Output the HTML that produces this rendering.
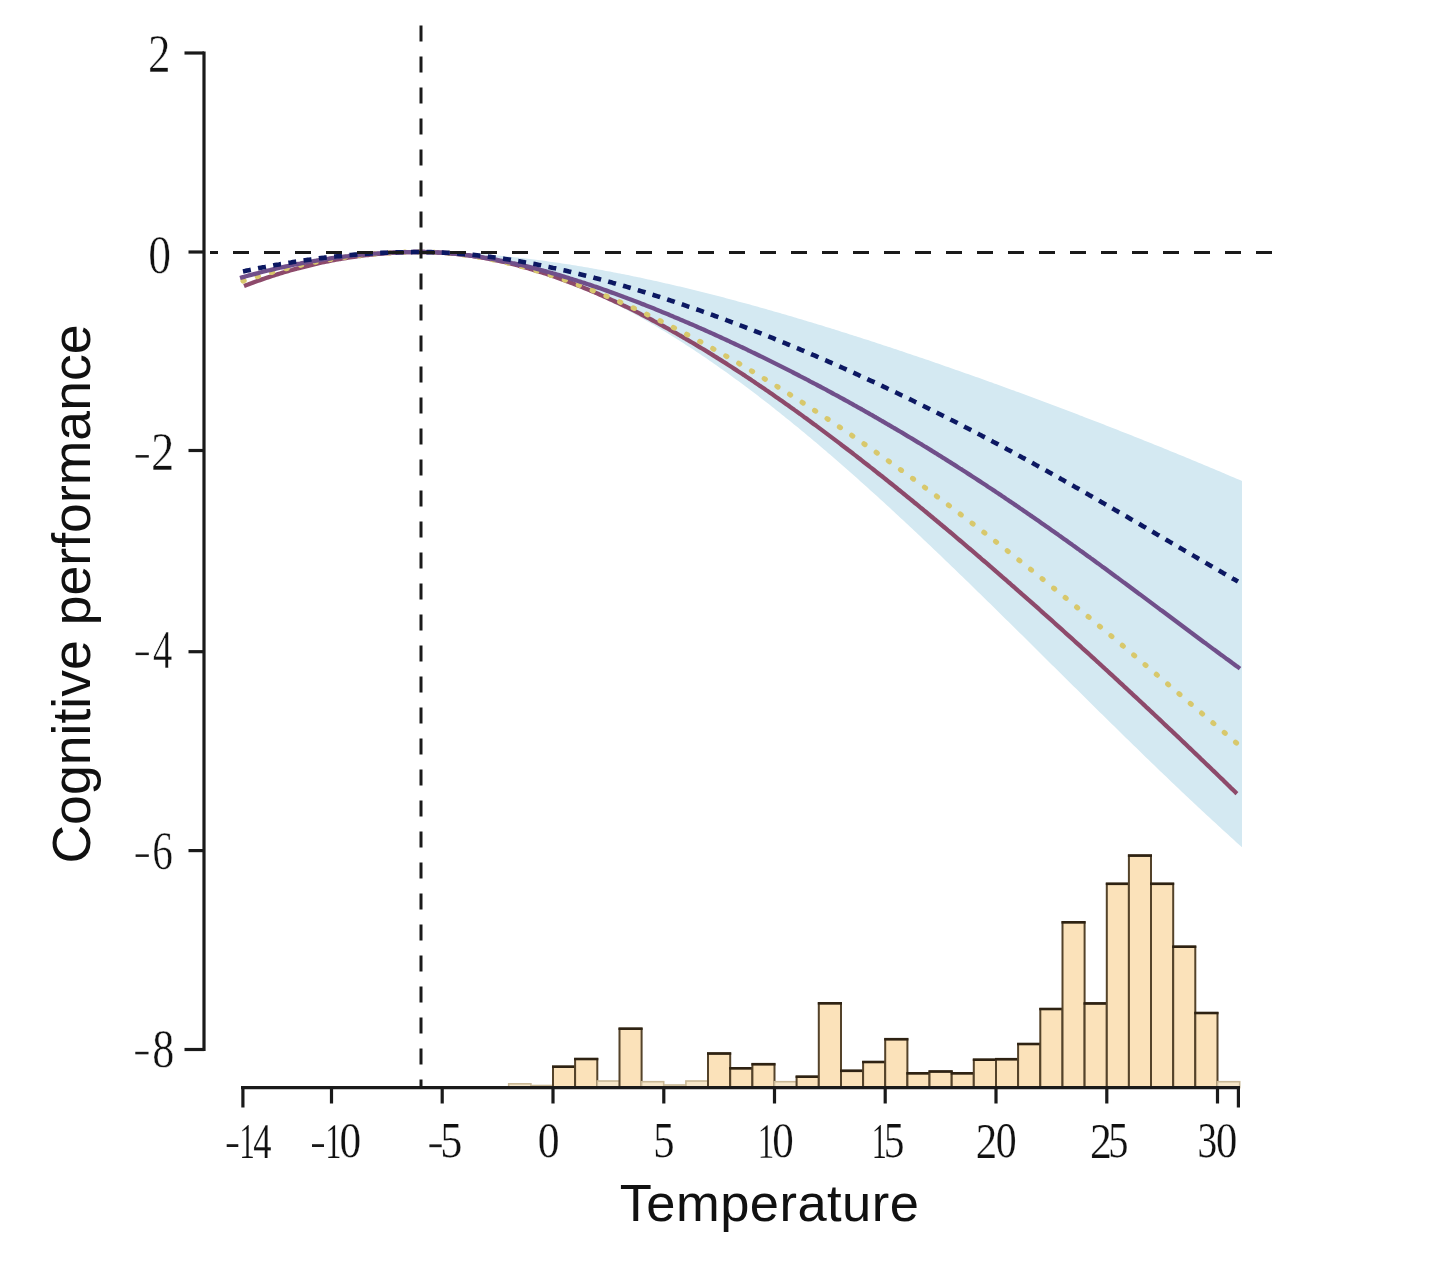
<!DOCTYPE html>
<html><head><meta charset="utf-8"><style>
html,body{margin:0;padding:0;background:#fff;}
body{width:1440px;height:1276px;overflow:hidden;position:relative;}
svg{position:absolute;left:0;top:0;will-change:transform;}
.ser{font-family:"Liberation Serif",serif;fill:#111;}
.ser text{stroke:#fff;stroke-width:0.5px;}
.ser text.xl{stroke-width:0.25px;}
.sans{font-family:"Liberation Sans",sans-serif;fill:#111;}
</style></head><body>
<svg width="1440" height="1276" viewBox="0 0 1440 1276">
<rect x="0" y="0" width="1440" height="1276" fill="#fff"/>
<g>
<path d="M420.0,252.0 L422.0,252.0 L424.0,252.0 L426.0,252.0 L428.0,252.0 L430.0,252.1 L432.0,252.1 L434.0,252.1 L436.0,252.2 L438.0,252.2 L440.0,252.3 L442.0,252.3 L444.0,252.4 L446.0,252.4 L448.0,252.5 L450.0,252.6 L452.0,252.6 L454.0,252.7 L456.0,252.8 L458.0,252.9 L460.0,253.0 L462.0,253.1 L464.0,253.2 L466.0,253.3 L468.0,253.4 L470.0,253.5 L472.0,253.7 L474.0,253.8 L476.0,253.9 L478.0,254.0 L480.0,254.2 L482.0,254.3 L484.0,254.5 L486.0,254.6 L488.0,254.8 L490.0,254.9 L492.0,255.1 L494.0,255.3 L496.0,255.5 L498.0,255.6 L500.0,255.8 L502.0,256.0 L504.0,256.2 L506.0,256.4 L508.0,256.6 L510.0,256.8 L512.0,257.0 L514.0,257.2 L516.0,257.4 L518.0,257.6 L520.0,257.9 L522.0,258.1 L524.0,258.3 L526.0,258.6 L528.0,258.8 L530.0,259.0 L532.0,259.3 L534.0,259.5 L536.0,259.8 L538.0,260.0 L540.0,260.3 L542.0,260.6 L544.0,260.8 L546.0,261.1 L548.0,261.4 L550.0,261.7 L552.0,261.9 L554.0,262.2 L556.0,262.5 L558.0,262.8 L560.0,263.1 L562.0,263.4 L564.0,263.7 L566.0,264.0 L568.0,264.3 L570.0,264.6 L572.0,265.0 L574.0,265.3 L576.0,265.6 L578.0,265.9 L580.0,266.3 L582.0,266.6 L584.0,266.9 L586.0,267.3 L588.0,267.6 L590.0,268.0 L592.0,268.3 L594.0,268.7 L596.0,269.0 L598.0,269.4 L600.0,269.8 L602.0,270.1 L604.0,270.5 L606.0,270.9 L608.0,271.2 L610.0,271.6 L612.0,272.0 L614.0,272.4 L616.0,272.8 L618.0,273.2 L620.0,273.5 L622.0,273.9 L624.0,274.3 L626.0,274.7 L628.0,275.1 L630.0,275.6 L632.0,276.0 L634.0,276.4 L636.0,276.8 L638.0,277.2 L640.0,277.6 L642.0,278.1 L644.0,278.5 L646.0,278.9 L648.0,279.4 L650.0,279.8 L652.0,280.2 L654.0,280.7 L656.0,281.1 L658.0,281.6 L660.0,282.0 L662.0,282.5 L664.0,282.9 L666.0,283.4 L668.0,283.8 L670.0,284.3 L672.0,284.7 L674.0,285.2 L676.0,285.7 L678.0,286.2 L680.0,286.6 L682.0,287.1 L684.0,287.6 L686.0,288.1 L688.0,288.5 L690.0,289.0 L692.0,289.5 L694.0,290.0 L696.0,290.5 L698.0,291.0 L700.0,291.5 L702.0,292.0 L704.0,292.5 L706.0,293.0 L708.0,293.5 L710.0,294.0 L712.0,294.5 L714.0,295.0 L716.0,295.6 L718.0,296.1 L720.0,296.6 L722.0,297.1 L724.0,297.6 L726.0,298.2 L728.0,298.7 L730.0,299.2 L732.0,299.7 L734.0,300.3 L736.0,300.8 L738.0,301.4 L740.0,301.9 L742.0,302.4 L744.0,303.0 L746.0,303.5 L748.0,304.1 L750.0,304.6 L752.0,305.2 L754.0,305.7 L756.0,306.3 L758.0,306.8 L760.0,307.4 L762.0,308.0 L764.0,308.5 L766.0,309.1 L768.0,309.7 L770.0,310.2 L772.0,310.8 L774.0,311.4 L776.0,312.0 L778.0,312.5 L780.0,313.1 L782.0,313.7 L784.0,314.3 L786.0,314.8 L788.0,315.4 L790.0,316.0 L792.0,316.6 L794.0,317.2 L796.0,317.8 L798.0,318.4 L800.0,319.0 L802.0,319.6 L804.0,320.2 L806.0,320.8 L808.0,321.4 L810.0,322.0 L812.0,322.6 L814.0,323.2 L816.0,323.8 L818.0,324.4 L820.0,325.0 L822.0,325.6 L824.0,326.3 L826.0,326.9 L828.0,327.5 L830.0,328.1 L832.0,328.7 L834.0,329.3 L836.0,330.0 L838.0,330.6 L840.0,331.2 L842.0,331.9 L844.0,332.5 L846.0,333.1 L848.0,333.7 L850.0,334.4 L852.0,335.0 L854.0,335.7 L856.0,336.3 L858.0,336.9 L860.0,337.6 L862.0,338.2 L864.0,338.9 L866.0,339.5 L868.0,340.1 L870.0,340.8 L872.0,341.4 L874.0,342.1 L876.0,342.7 L878.0,343.4 L880.0,344.1 L882.0,344.7 L884.0,345.4 L886.0,346.0 L888.0,346.7 L890.0,347.3 L892.0,348.0 L894.0,348.7 L896.0,349.3 L898.0,350.0 L900.0,350.7 L902.0,351.3 L904.0,352.0 L906.0,352.7 L908.0,353.4 L910.0,354.0 L912.0,354.7 L914.0,355.4 L916.0,356.1 L918.0,356.7 L920.0,357.4 L922.0,358.1 L924.0,358.8 L926.0,359.5 L928.0,360.1 L930.0,360.8 L932.0,361.5 L934.0,362.2 L936.0,362.9 L938.0,363.6 L940.0,364.3 L942.0,365.0 L944.0,365.7 L946.0,366.4 L948.0,367.1 L950.0,367.8 L952.0,368.5 L954.0,369.2 L956.0,369.9 L958.0,370.6 L960.0,371.3 L962.0,372.0 L964.0,372.7 L966.0,373.4 L968.0,374.1 L970.0,374.8 L972.0,375.5 L974.0,376.2 L976.0,376.9 L978.0,377.6 L980.0,378.3 L982.0,379.1 L984.0,379.8 L986.0,380.5 L988.0,381.2 L990.0,381.9 L992.0,382.6 L994.0,383.4 L996.0,384.1 L998.0,384.8 L1000.0,385.5 L1002.0,386.3 L1004.0,387.0 L1006.0,387.7 L1008.0,388.4 L1010.0,389.2 L1012.0,389.9 L1014.0,390.6 L1016.0,391.4 L1018.0,392.1 L1020.0,392.8 L1022.0,393.6 L1024.0,394.3 L1026.0,395.0 L1028.0,395.8 L1030.0,396.5 L1032.0,397.3 L1034.0,398.0 L1036.0,398.8 L1038.0,399.5 L1040.0,400.2 L1042.0,401.0 L1044.0,401.7 L1046.0,402.5 L1048.0,403.2 L1050.0,404.0 L1052.0,404.7 L1054.0,405.5 L1056.0,406.2 L1058.0,407.0 L1060.0,407.7 L1062.0,408.5 L1064.0,409.3 L1066.0,410.0 L1068.0,410.8 L1070.0,411.5 L1072.0,412.3 L1074.0,413.1 L1076.0,413.8 L1078.0,414.6 L1080.0,415.4 L1082.0,416.1 L1084.0,416.9 L1086.0,417.7 L1088.0,418.4 L1090.0,419.2 L1092.0,420.0 L1094.0,420.7 L1096.0,421.5 L1098.0,422.3 L1100.0,423.1 L1102.0,423.8 L1104.0,424.6 L1106.0,425.4 L1108.0,426.2 L1110.0,427.0 L1112.0,427.7 L1114.0,428.5 L1116.0,429.3 L1118.0,430.1 L1120.0,430.9 L1122.0,431.7 L1124.0,432.4 L1126.0,433.2 L1128.0,434.0 L1130.0,434.8 L1132.0,435.6 L1134.0,436.4 L1136.0,437.2 L1138.0,438.0 L1140.0,438.8 L1142.0,439.6 L1144.0,440.4 L1146.0,441.2 L1148.0,442.0 L1150.0,442.8 L1152.0,443.6 L1154.0,444.4 L1156.0,445.2 L1158.0,446.0 L1160.0,446.8 L1162.0,447.6 L1164.0,448.4 L1166.0,449.3 L1168.0,450.1 L1170.0,450.9 L1172.0,451.7 L1174.0,452.5 L1176.0,453.3 L1178.0,454.2 L1180.0,455.0 L1182.0,455.8 L1184.0,456.6 L1186.0,457.4 L1188.0,458.3 L1190.0,459.1 L1192.0,459.9 L1194.0,460.7 L1196.0,461.6 L1198.0,462.4 L1200.0,463.2 L1202.0,464.1 L1204.0,464.9 L1206.0,465.7 L1208.0,466.6 L1210.0,467.4 L1212.0,468.3 L1214.0,469.1 L1216.0,469.9 L1218.0,470.8 L1220.0,471.6 L1222.0,472.5 L1224.0,473.3 L1226.0,474.2 L1228.0,475.0 L1230.0,475.9 L1232.0,476.7 L1234.0,477.6 L1236.0,478.4 L1238.0,479.3 L1240.0,480.1 L1242.0,481.0 L1242.0,847.3 L1240.0,845.5 L1238.0,843.7 L1236.0,841.9 L1234.0,840.1 L1232.0,838.3 L1230.0,836.4 L1228.0,834.6 L1226.0,832.8 L1224.0,831.0 L1222.0,829.2 L1220.0,827.3 L1218.0,825.5 L1216.0,823.6 L1214.0,821.8 L1212.0,820.0 L1210.0,818.1 L1208.0,816.3 L1206.0,814.4 L1204.0,812.5 L1202.0,810.7 L1200.0,808.8 L1198.0,806.9 L1196.0,805.1 L1194.0,803.2 L1192.0,801.3 L1190.0,799.4 L1188.0,797.5 L1186.0,795.7 L1184.0,793.8 L1182.0,791.9 L1180.0,790.0 L1178.0,788.1 L1176.0,786.2 L1174.0,784.3 L1172.0,782.4 L1170.0,780.5 L1168.0,778.5 L1166.0,776.6 L1164.0,774.7 L1162.0,772.8 L1160.0,770.9 L1158.0,768.9 L1156.0,767.0 L1154.0,765.1 L1152.0,763.2 L1150.0,761.2 L1148.0,759.3 L1146.0,757.4 L1144.0,755.4 L1142.0,753.5 L1140.0,751.5 L1138.0,749.6 L1136.0,747.6 L1134.0,745.7 L1132.0,743.7 L1130.0,741.8 L1128.0,739.8 L1126.0,737.9 L1124.0,735.9 L1122.0,734.0 L1120.0,732.0 L1118.0,730.1 L1116.0,728.1 L1114.0,726.1 L1112.0,724.2 L1110.0,722.2 L1108.0,720.2 L1106.0,718.3 L1104.0,716.3 L1102.0,714.3 L1100.0,712.4 L1098.0,710.4 L1096.0,708.4 L1094.0,706.4 L1092.0,704.5 L1090.0,702.5 L1088.0,700.5 L1086.0,698.5 L1084.0,696.6 L1082.0,694.6 L1080.0,692.6 L1078.0,690.6 L1076.0,688.6 L1074.0,686.7 L1072.0,684.7 L1070.0,682.7 L1068.0,680.7 L1066.0,678.7 L1064.0,676.8 L1062.0,674.8 L1060.0,672.8 L1058.0,670.8 L1056.0,668.8 L1054.0,666.8 L1052.0,664.9 L1050.0,662.9 L1048.0,660.9 L1046.0,658.9 L1044.0,656.9 L1042.0,654.9 L1040.0,653.0 L1038.0,651.0 L1036.0,649.0 L1034.0,647.0 L1032.0,645.0 L1030.0,643.1 L1028.0,641.1 L1026.0,639.1 L1024.0,637.1 L1022.0,635.1 L1020.0,633.2 L1018.0,631.2 L1016.0,629.2 L1014.0,627.2 L1012.0,625.3 L1010.0,623.3 L1008.0,621.3 L1006.0,619.4 L1004.0,617.4 L1002.0,615.4 L1000.0,613.4 L998.0,611.5 L996.0,609.5 L994.0,607.6 L992.0,605.6 L990.0,603.6 L988.0,601.7 L986.0,599.7 L984.0,597.8 L982.0,595.8 L980.0,593.8 L978.0,591.9 L976.0,589.9 L974.0,588.0 L972.0,586.0 L970.0,584.1 L968.0,582.1 L966.0,580.2 L964.0,578.3 L962.0,576.3 L960.0,574.4 L958.0,572.5 L956.0,570.5 L954.0,568.6 L952.0,566.7 L950.0,564.7 L948.0,562.8 L946.0,560.9 L944.0,559.0 L942.0,557.1 L940.0,555.1 L938.0,553.2 L936.0,551.3 L934.0,549.4 L932.0,547.5 L930.0,545.6 L928.0,543.7 L926.0,541.8 L924.0,539.9 L922.0,538.0 L920.0,536.1 L918.0,534.2 L916.0,532.3 L914.0,530.5 L912.0,528.6 L910.0,526.7 L908.0,524.8 L906.0,523.0 L904.0,521.1 L902.0,519.2 L900.0,517.4 L898.0,515.5 L896.0,513.7 L894.0,511.8 L892.0,510.0 L890.0,508.1 L888.0,506.3 L886.0,504.5 L884.0,502.6 L882.0,500.8 L880.0,499.0 L878.0,497.1 L876.0,495.3 L874.0,493.5 L872.0,491.7 L870.0,489.9 L868.0,488.1 L866.0,486.3 L864.0,484.5 L862.0,482.7 L860.0,480.9 L858.0,479.1 L856.0,477.3 L854.0,475.6 L852.0,473.8 L850.0,472.0 L848.0,470.3 L846.0,468.5 L844.0,466.7 L842.0,465.0 L840.0,463.2 L838.0,461.5 L836.0,459.8 L834.0,458.0 L832.0,456.3 L830.0,454.6 L828.0,452.9 L826.0,451.1 L824.0,449.4 L822.0,447.7 L820.0,446.0 L818.0,444.3 L816.0,442.6 L814.0,441.0 L812.0,439.3 L810.0,437.6 L808.0,435.9 L806.0,434.3 L804.0,432.6 L802.0,430.9 L800.0,429.3 L798.0,427.6 L796.0,426.0 L794.0,424.4 L792.0,422.7 L790.0,421.1 L788.0,419.5 L786.0,417.9 L784.0,416.3 L782.0,414.7 L780.0,413.1 L778.0,411.5 L776.0,409.9 L774.0,408.3 L772.0,406.7 L770.0,405.1 L768.0,403.6 L766.0,402.0 L764.0,400.5 L762.0,398.9 L760.0,397.4 L758.0,395.8 L756.0,394.3 L754.0,392.8 L752.0,391.3 L750.0,389.8 L748.0,388.3 L746.0,386.8 L744.0,385.3 L742.0,383.8 L740.0,382.3 L738.0,380.8 L736.0,379.4 L734.0,377.9 L732.0,376.5 L730.0,375.0 L728.0,373.6 L726.0,372.1 L724.0,370.7 L722.0,369.3 L720.0,367.9 L718.0,366.5 L716.0,365.1 L714.0,363.7 L712.0,362.3 L710.0,360.9 L708.0,359.5 L706.0,358.1 L704.0,356.8 L702.0,355.4 L700.0,354.1 L698.0,352.7 L696.0,351.4 L694.0,350.1 L692.0,348.8 L690.0,347.5 L688.0,346.2 L686.0,344.9 L684.0,343.6 L682.0,342.3 L680.0,341.0 L678.0,339.7 L676.0,338.5 L674.0,337.2 L672.0,336.0 L670.0,334.8 L668.0,333.5 L666.0,332.3 L664.0,331.1 L662.0,329.9 L660.0,328.7 L658.0,327.5 L656.0,326.3 L654.0,325.1 L652.0,324.0 L650.0,322.8 L648.0,321.7 L646.0,320.5 L644.0,319.4 L642.0,318.3 L640.0,317.1 L638.0,316.0 L636.0,314.9 L634.0,313.8 L632.0,312.8 L630.0,311.7 L628.0,310.6 L626.0,309.6 L624.0,308.5 L622.0,307.5 L620.0,306.4 L618.0,305.4 L616.0,304.4 L614.0,303.4 L612.0,302.4 L610.0,301.4 L608.0,300.4 L606.0,299.4 L604.0,298.5 L602.0,297.5 L600.0,296.5 L598.0,295.6 L596.0,294.7 L594.0,293.8 L592.0,292.8 L590.0,291.9 L588.0,291.1 L586.0,290.2 L584.0,289.3 L582.0,288.4 L580.0,287.6 L578.0,286.7 L576.0,285.9 L574.0,285.1 L572.0,284.2 L570.0,283.4 L568.0,282.6 L566.0,281.8 L564.0,281.0 L562.0,280.3 L560.0,279.5 L558.0,278.8 L556.0,278.0 L554.0,277.3 L552.0,276.6 L550.0,275.8 L548.0,275.1 L546.0,274.4 L544.0,273.8 L542.0,273.1 L540.0,272.4 L538.0,271.8 L536.0,271.1 L534.0,270.5 L532.0,269.9 L530.0,269.2 L528.0,268.6 L526.0,268.0 L524.0,267.5 L522.0,266.9 L520.0,266.3 L518.0,265.8 L516.0,265.2 L514.0,264.7 L512.0,264.2 L510.0,263.7 L508.0,263.2 L506.0,262.7 L504.0,262.2 L502.0,261.7 L500.0,261.3 L498.0,260.8 L496.0,260.4 L494.0,259.9 L492.0,259.5 L490.0,259.1 L488.0,258.7 L486.0,258.3 L484.0,258.0 L482.0,257.6 L480.0,257.3 L478.0,256.9 L476.0,256.6 L474.0,256.3 L472.0,256.0 L470.0,255.7 L468.0,255.4 L466.0,255.1 L464.0,254.8 L462.0,254.6 L460.0,254.4 L458.0,254.1 L456.0,253.9 L454.0,253.7 L452.0,253.5 L450.0,253.3 L448.0,253.2 L446.0,253.0 L444.0,252.9 L442.0,252.7 L440.0,252.6 L438.0,252.5 L436.0,252.4 L434.0,252.3 L432.0,252.2 L430.0,252.1 L428.0,252.1 L426.0,252.1 L424.0,252.0 L422.0,252.0 L420.0,252.0Z" fill="#d4e9f2"/>
<g fill="none" stroke-linecap="butt" stroke-linejoin="round">
<path d="M244.0,286.0 L246.0,285.2 L248.0,284.5 L250.0,283.7 L252.0,283.0 L254.0,282.2 L256.0,281.5 L258.0,280.8 L260.0,280.1 L262.0,279.4 L264.0,278.7 L266.0,278.0 L268.0,277.4 L270.0,276.7 L272.0,276.0 L274.0,275.4 L276.0,274.8 L278.0,274.1 L280.0,273.5 L282.0,272.9 L284.0,272.3 L286.0,271.7 L288.0,271.1 L290.0,270.5 L292.0,270.0 L294.0,269.4 L296.0,268.9 L298.0,268.3 L300.0,267.8 L302.0,267.3 L304.0,266.8 L306.0,266.3 L308.0,265.8 L310.0,265.3 L312.0,264.8 L314.0,264.3 L316.0,263.9 L318.0,263.4 L320.0,263.0 L322.0,262.5 L324.0,262.1 L326.0,261.7 L328.0,261.3 L330.0,260.9 L332.0,260.5 L334.0,260.1 L336.0,259.7 L338.0,259.4 L340.0,259.0 L342.0,258.7 L344.0,258.3 L346.0,258.0 L348.0,257.7 L350.0,257.4 L352.0,257.1 L354.0,256.8 L356.0,256.5 L358.0,256.2 L360.0,256.0 L362.0,255.7 L364.0,255.4 L366.0,255.2 L368.0,255.0 L370.0,254.7 L372.0,254.5 L374.0,254.3 L376.0,254.1 L378.0,253.9 L380.0,253.8 L382.0,253.6 L384.0,253.4 L386.0,253.3 L388.0,253.1 L390.0,253.0 L392.0,252.9 L394.0,252.7 L396.0,252.6 L398.0,252.5 L400.0,252.4 L402.0,252.4 L404.0,252.3 L406.0,252.2 L408.0,252.2 L410.0,252.1 L412.0,252.1 L414.0,252.0 L416.0,252.0 L418.0,252.0 L420.0,252.0 L422.0,252.0 L424.0,252.0 L426.0,252.1 L428.0,252.1 L430.0,252.2 L432.0,252.2 L434.0,252.3 L436.0,252.4 L438.0,252.5 L440.0,252.6 L442.0,252.7 L444.0,252.9 L446.0,253.0 L448.0,253.2 L450.0,253.3 L452.0,253.5 L454.0,253.7 L456.0,253.9 L458.0,254.1 L460.0,254.4 L462.0,254.6 L464.0,254.8 L466.0,255.1 L468.0,255.4 L470.0,255.7 L472.0,255.9 L474.0,256.3 L476.0,256.6 L478.0,256.9 L480.0,257.2 L482.0,257.6 L484.0,257.9 L486.0,258.3 L488.0,258.7 L490.0,259.1 L492.0,259.4 L494.0,259.9 L496.0,260.3 L498.0,260.7 L500.0,261.1 L502.0,261.6 L504.0,262.0 L506.0,262.5 L508.0,263.0 L510.0,263.5 L512.0,264.0 L514.0,264.5 L516.0,265.0 L518.0,265.5 L520.0,266.1 L522.0,266.6 L524.0,267.1 L526.0,267.7 L528.0,268.3 L530.0,268.9 L532.0,269.5 L534.0,270.1 L536.0,270.7 L538.0,271.3 L540.0,271.9 L542.0,272.5 L544.0,273.2 L546.0,273.8 L548.0,274.5 L550.0,275.2 L552.0,275.9 L554.0,276.5 L556.0,277.2 L558.0,278.0 L560.0,278.7 L562.0,279.4 L564.0,280.1 L566.0,280.9 L568.0,281.6 L570.0,282.4 L572.0,283.1 L574.0,283.9 L576.0,284.7 L578.0,285.5 L580.0,286.3 L582.0,287.1 L584.0,287.9 L586.0,288.7 L588.0,289.5 L590.0,290.4 L592.0,291.2 L594.0,292.1 L596.0,292.9 L598.0,293.8 L600.0,294.7 L602.0,295.6 L604.0,296.5 L606.0,297.4 L608.0,298.3 L610.0,299.2 L612.0,300.1 L614.0,301.0 L616.0,302.0 L618.0,302.9 L620.0,303.8 L622.0,304.8 L624.0,305.8 L626.0,306.7 L628.0,307.7 L630.0,308.7 L632.0,309.7 L634.0,310.7 L636.0,311.7 L638.0,312.7 L640.0,313.7 L642.0,314.8 L644.0,315.8 L646.0,316.8 L648.0,317.9 L650.0,318.9 L652.0,320.0 L654.0,321.1 L656.0,322.1 L658.0,323.2 L660.0,324.3 L662.0,325.4 L664.0,326.5 L666.0,327.6 L668.0,328.7 L670.0,329.8 L672.0,330.9 L674.0,332.1 L676.0,333.2 L678.0,334.3 L680.0,335.5 L682.0,336.6 L684.0,337.8 L686.0,339.0 L688.0,340.1 L690.0,341.3 L692.0,342.5 L694.0,343.7 L696.0,344.9 L698.0,346.1 L700.0,347.3 L702.0,348.5 L704.0,349.7 L706.0,350.9 L708.0,352.1 L710.0,353.4 L712.0,354.6 L714.0,355.9 L716.0,357.1 L718.0,358.4 L720.0,359.6 L722.0,360.9 L724.0,362.2 L726.0,363.4 L728.0,364.7 L730.0,366.0 L732.0,367.3 L734.0,368.6 L736.0,369.9 L738.0,371.2 L740.0,372.5 L742.0,373.8 L744.0,375.1 L746.0,376.5 L748.0,377.8 L750.0,379.1 L752.0,380.5 L754.0,381.8 L756.0,383.2 L758.0,384.5 L760.0,385.9 L762.0,387.2 L764.0,388.6 L766.0,390.0 L768.0,391.3 L770.0,392.7 L772.0,394.1 L774.0,395.5 L776.0,396.9 L778.0,398.3 L780.0,399.7 L782.0,401.1 L784.0,402.5 L786.0,403.9 L788.0,405.3 L790.0,406.8 L792.0,408.2 L794.0,409.6 L796.0,411.1 L798.0,412.5 L800.0,413.9 L802.0,415.4 L804.0,416.9 L806.0,418.3 L808.0,419.8 L810.0,421.2 L812.0,422.7 L814.0,424.2 L816.0,425.6 L818.0,427.1 L820.0,428.6 L822.0,430.1 L824.0,431.6 L826.0,433.1 L828.0,434.6 L830.0,436.1 L832.0,437.6 L834.0,439.1 L836.0,440.6 L838.0,442.1 L840.0,443.6 L842.0,445.2 L844.0,446.7 L846.0,448.2 L848.0,449.8 L850.0,451.3 L852.0,452.8 L854.0,454.4 L856.0,455.9 L858.0,457.5 L860.0,459.0 L862.0,460.6 L864.0,462.2 L866.0,463.7 L868.0,465.3 L870.0,466.9 L872.0,468.4 L874.0,470.0 L876.0,471.6 L878.0,473.2 L880.0,474.8 L882.0,476.3 L884.0,477.9 L886.0,479.5 L888.0,481.1 L890.0,482.7 L892.0,484.3 L894.0,485.9 L896.0,487.5 L898.0,489.2 L900.0,490.8 L902.0,492.4 L904.0,494.0 L906.0,495.6 L908.0,497.3 L910.0,498.9 L912.0,500.5 L914.0,502.2 L916.0,503.8 L918.0,505.4 L920.0,507.1 L922.0,508.7 L924.0,510.4 L926.0,512.0 L928.0,513.7 L930.0,515.3 L932.0,517.0 L934.0,518.7 L936.0,520.3 L938.0,522.0 L940.0,523.7 L942.0,525.3 L944.0,527.0 L946.0,528.7 L948.0,530.4 L950.0,532.0 L952.0,533.7 L954.0,535.4 L956.0,537.1 L958.0,538.8 L960.0,540.5 L962.0,542.2 L964.0,543.9 L966.0,545.6 L968.0,547.3 L970.0,549.0 L972.0,550.7 L974.0,552.4 L976.0,554.1 L978.0,555.8 L980.0,557.5 L982.0,559.3 L984.0,561.0 L986.0,562.7 L988.0,564.4 L990.0,566.2 L992.0,567.9 L994.0,569.6 L996.0,571.4 L998.0,573.1 L1000.0,574.8 L1002.0,576.6 L1004.0,578.3 L1006.0,580.0 L1008.0,581.8 L1010.0,583.5 L1012.0,585.3 L1014.0,587.0 L1016.0,588.8 L1018.0,590.6 L1020.0,592.3 L1022.0,594.1 L1024.0,595.8 L1026.0,597.6 L1028.0,599.4 L1030.0,601.1 L1032.0,602.9 L1034.0,604.7 L1036.0,606.4 L1038.0,608.2 L1040.0,610.0 L1042.0,611.8 L1044.0,613.6 L1046.0,615.3 L1048.0,617.1 L1050.0,618.9 L1052.0,620.7 L1054.0,622.5 L1056.0,624.3 L1058.0,626.1 L1060.0,627.9 L1062.0,629.7 L1064.0,631.5 L1066.0,633.3 L1068.0,635.1 L1070.0,636.9 L1072.0,638.7 L1074.0,640.5 L1076.0,642.3 L1078.0,644.1 L1080.0,645.9 L1082.0,647.8 L1084.0,649.6 L1086.0,651.4 L1088.0,653.2 L1090.0,655.0 L1092.0,656.9 L1094.0,658.7 L1096.0,660.5 L1098.0,662.3 L1100.0,664.2 L1102.0,666.0 L1104.0,667.8 L1106.0,669.7 L1108.0,671.5 L1110.0,673.4 L1112.0,675.2 L1114.0,677.0 L1116.0,678.9 L1118.0,680.7 L1120.0,682.6 L1122.0,684.4 L1124.0,686.3 L1126.0,688.1 L1128.0,690.0 L1130.0,691.9 L1132.0,693.7 L1134.0,695.6 L1136.0,697.4 L1138.0,699.3 L1140.0,701.2 L1142.0,703.0 L1144.0,704.9 L1146.0,706.8 L1148.0,708.6 L1150.0,710.5 L1152.0,712.4 L1154.0,714.3 L1156.0,716.2 L1158.0,718.0 L1160.0,719.9 L1162.0,721.8 L1164.0,723.7 L1166.0,725.6 L1168.0,727.5 L1170.0,729.4 L1172.0,731.2 L1174.0,733.1 L1176.0,735.0 L1178.0,736.9 L1180.0,738.8 L1182.0,740.7 L1184.0,742.6 L1186.0,744.5 L1188.0,746.5 L1190.0,748.4 L1192.0,750.3 L1194.0,752.2 L1196.0,754.1 L1198.0,756.0 L1200.0,757.9 L1202.0,759.9 L1204.0,761.8 L1206.0,763.7 L1208.0,765.6 L1210.0,767.5 L1212.0,769.5 L1214.0,771.4 L1216.0,773.3 L1218.0,775.3 L1220.0,777.2 L1222.0,779.1 L1224.0,781.1 L1226.0,783.0 L1228.0,785.0 L1230.0,786.9 L1232.0,788.9 L1234.0,790.8 L1236.0,792.8 L1237.0,793.7" stroke="#8d4a6b" stroke-width="4.3"/>
<path d="M243.0,281.0 L245.0,280.3 L247.0,279.7 L249.0,279.1 L251.0,278.4 L253.0,277.8 L255.0,277.2 L257.0,276.6 L259.0,276.0 L261.0,275.4 L263.0,274.8 L265.0,274.2 L267.0,273.7 L269.0,273.1 L271.0,272.6 L273.0,272.0 L275.0,271.5 L277.0,270.9 L279.0,270.4 L281.0,269.9 L283.0,269.4 L285.0,268.9 L287.0,268.4 L289.0,267.9 L291.0,267.4 L293.0,266.9 L295.0,266.5 L297.0,266.0 L299.0,265.6 L301.0,265.1 L303.0,264.7 L305.0,264.2 L307.0,263.8 L309.0,263.4 L311.0,263.0 L313.0,262.6 L315.0,262.2 L317.0,261.8 L319.0,261.4 L321.0,261.1 L323.0,260.7 L325.0,260.4 L327.0,260.0 L329.0,259.7 L331.0,259.3 L333.0,259.0 L335.0,258.7 L337.0,258.4 L339.0,258.1 L341.0,257.8 L343.0,257.5 L345.0,257.2 L347.0,256.9 L349.0,256.7 L351.0,256.4 L353.0,256.2 L355.0,255.9 L357.0,255.7 L359.0,255.4 L361.0,255.2 L363.0,255.0 L365.0,254.8 L367.0,254.6 L369.0,254.4 L371.0,254.2 L373.0,254.0 L375.0,253.9 L377.0,253.7 L379.0,253.6 L381.0,253.4 L383.0,253.3 L385.0,253.1 L387.0,253.0 L389.0,252.9 L391.0,252.8 L393.0,252.7 L395.0,252.6 L397.0,252.5 L399.0,252.4 L401.0,252.3 L403.0,252.3 L405.0,252.2 L407.0,252.2 L409.0,252.1 L411.0,252.1 L413.0,252.0 L415.0,252.0 L417.0,252.0 L419.0,252.0 L421.0,252.0 L423.0,252.0 L425.0,252.0 L427.0,252.1 L429.0,252.1 L431.0,252.2 L433.0,252.3 L435.0,252.4 L437.0,252.5 L439.0,252.6 L441.0,252.7 L443.0,252.8 L445.0,253.0 L447.0,253.1 L449.0,253.3 L451.0,253.5 L453.0,253.7 L455.0,253.9 L457.0,254.1 L459.0,254.3 L461.0,254.6 L463.0,254.8 L465.0,255.1 L467.0,255.3 L469.0,255.6 L471.0,255.9 L473.0,256.2 L475.0,256.5 L477.0,256.8 L479.0,257.2 L481.0,257.5 L483.0,257.9 L485.0,258.2 L487.0,258.6 L489.0,259.0 L491.0,259.4 L493.0,259.8 L495.0,260.2 L497.0,260.6 L499.0,261.0 L501.0,261.5 L503.0,261.9 L505.0,262.4 L507.0,262.8 L509.0,263.3 L511.0,263.8 L513.0,264.3 L515.0,264.8 L517.0,265.3 L519.0,265.8 L521.0,266.4 L523.0,266.9 L525.0,267.4 L527.0,268.0 L529.0,268.6 L531.0,269.1 L533.0,269.7 L535.0,270.3 L537.0,270.9 L539.0,271.5 L541.0,272.1 L543.0,272.7 L545.0,273.3 L547.0,274.0 L549.0,274.6 L551.0,275.3 L553.0,275.9 L555.0,276.6 L557.0,277.3 L559.0,277.9 L561.0,278.6 L563.0,279.3 L565.0,280.0 L567.0,280.7 L569.0,281.4 L571.0,282.2 L573.0,282.9 L575.0,283.6 L577.0,284.4 L579.0,285.1 L581.0,285.9 L583.0,286.6 L585.0,287.4 L587.0,288.2 L589.0,289.0 L591.0,289.8 L593.0,290.6 L595.0,291.4 L597.0,292.2 L599.0,293.0 L601.0,293.8 L603.0,294.6 L605.0,295.5 L607.0,296.3 L609.0,297.2 L611.0,298.0 L613.0,298.9 L615.0,299.7 L617.0,300.6 L619.0,301.5 L621.0,302.4 L623.0,303.3 L625.0,304.1 L627.0,305.0 L629.0,306.0 L631.0,306.9 L633.0,307.8 L635.0,308.7 L637.0,309.6 L639.0,310.6 L641.0,311.5 L643.0,312.5 L645.0,313.4 L647.0,314.4 L649.0,315.3 L651.0,316.3 L653.0,317.3 L655.0,318.2 L657.0,319.2 L659.0,320.2 L661.0,321.2 L663.0,322.2 L665.0,323.2 L667.0,324.2 L669.0,325.2 L671.0,326.2 L673.0,327.2 L675.0,328.3 L677.0,329.3 L679.0,330.3 L681.0,331.4 L683.0,332.4 L685.0,333.5 L687.0,334.5 L689.0,335.6 L691.0,336.7 L693.0,337.7 L695.0,338.8 L697.0,339.9 L699.0,341.0 L701.0,342.0 L703.0,343.1 L705.0,344.2 L707.0,345.3 L709.0,346.4 L711.0,347.5 L713.0,348.7 L715.0,349.8 L717.0,350.9 L719.0,352.0 L721.0,353.2 L723.0,354.3 L725.0,355.4 L727.0,356.6 L729.0,357.7 L731.0,358.9 L733.0,360.0 L735.0,361.2 L737.0,362.3 L739.0,363.5 L741.0,364.7 L743.0,365.9 L745.0,367.0 L747.0,368.2 L749.0,369.4 L751.0,370.6 L753.0,371.8 L755.0,373.0 L757.0,374.2 L759.0,375.4 L761.0,376.6 L763.0,377.8 L765.0,379.1 L767.0,380.3 L769.0,381.5 L771.0,382.7 L773.0,384.0 L775.0,385.2 L777.0,386.4 L779.0,387.7 L781.0,388.9 L783.0,390.2 L785.0,391.4 L787.0,392.7 L789.0,394.0 L791.0,395.2 L793.0,396.5 L795.0,397.8 L797.0,399.0 L799.0,400.3 L801.0,401.6 L803.0,402.9 L805.0,404.2 L807.0,405.5 L809.0,406.8 L811.0,408.1 L813.0,409.4 L815.0,410.7 L817.0,412.0 L819.0,413.3 L821.0,414.6 L823.0,416.0 L825.0,417.3 L827.0,418.6 L829.0,419.9 L831.0,421.3 L833.0,422.6 L835.0,424.0 L837.0,425.3 L839.0,426.7 L841.0,428.0 L843.0,429.4 L845.0,430.7 L847.0,432.1 L849.0,433.4 L851.0,434.8 L853.0,436.2 L855.0,437.6 L857.0,438.9 L859.0,440.3 L861.0,441.7 L863.0,443.1 L865.0,444.5 L867.0,445.9 L869.0,447.3 L871.0,448.7 L873.0,450.1 L875.0,451.5 L877.0,452.9 L879.0,454.3 L881.0,455.7 L883.0,457.1 L885.0,458.5 L887.0,460.0 L889.0,461.4 L891.0,462.8 L893.0,464.2 L895.0,465.7 L897.0,467.1 L899.0,468.6 L901.0,470.0 L903.0,471.5 L905.0,472.9 L907.0,474.4 L909.0,475.8 L911.0,477.3 L913.0,478.7 L915.0,480.2 L917.0,481.7 L919.0,483.1 L921.0,484.6 L923.0,486.1 L925.0,487.6 L927.0,489.0 L929.0,490.5 L931.0,492.0 L933.0,493.5 L935.0,495.0 L937.0,496.5 L939.0,498.0 L941.0,499.5 L943.0,501.0 L945.0,502.5 L947.0,504.0 L949.0,505.5 L951.0,507.0 L953.0,508.6 L955.0,510.1 L957.0,511.6 L959.0,513.1 L961.0,514.7 L963.0,516.2 L965.0,517.7 L967.0,519.2 L969.0,520.8 L971.0,522.3 L973.0,523.9 L975.0,525.4 L977.0,527.0 L979.0,528.5 L981.0,530.1 L983.0,531.6 L985.0,533.2 L987.0,534.7 L989.0,536.3 L991.0,537.9 L993.0,539.4 L995.0,541.0 L997.0,542.6 L999.0,544.2 L1001.0,545.7 L1003.0,547.3 L1005.0,548.9 L1007.0,550.5 L1009.0,552.1 L1011.0,553.7 L1013.0,555.3 L1015.0,556.9 L1017.0,558.5 L1019.0,560.1 L1021.0,561.7 L1023.0,563.3 L1025.0,564.9 L1027.0,566.5 L1029.0,568.1 L1031.0,569.7 L1033.0,571.3 L1035.0,572.9 L1037.0,574.6 L1039.0,576.2 L1041.0,577.8 L1043.0,579.4 L1045.0,581.0 L1047.0,582.7 L1049.0,584.3 L1051.0,585.9 L1053.0,587.6 L1055.0,589.2 L1057.0,590.9 L1059.0,592.5 L1061.0,594.1 L1063.0,595.8 L1065.0,597.4 L1067.0,599.1 L1069.0,600.7 L1071.0,602.4 L1073.0,604.0 L1075.0,605.7 L1077.0,607.4 L1079.0,609.0 L1081.0,610.7 L1083.0,612.3 L1085.0,614.0 L1087.0,615.7 L1089.0,617.3 L1091.0,619.0 L1093.0,620.7 L1095.0,622.4 L1097.0,624.0 L1099.0,625.7 L1101.0,627.4 L1103.0,629.1 L1105.0,630.8 L1107.0,632.4 L1109.0,634.1 L1111.0,635.8 L1113.0,637.5 L1115.0,639.2 L1117.0,640.9 L1119.0,642.6 L1121.0,644.3 L1123.0,645.9 L1125.0,647.6 L1127.0,649.3 L1129.0,651.0 L1131.0,652.7 L1133.0,654.4 L1135.0,656.1 L1137.0,657.8 L1139.0,659.5 L1141.0,661.2 L1143.0,662.9 L1145.0,664.6 L1147.0,666.3 L1149.0,668.1 L1151.0,669.8 L1153.0,671.5 L1155.0,673.2 L1157.0,674.9 L1159.0,676.6 L1161.0,678.3 L1163.0,680.0 L1165.0,681.7 L1167.0,683.4 L1169.0,685.2 L1171.0,686.9 L1173.0,688.6 L1175.0,690.3 L1177.0,692.0 L1179.0,693.7 L1181.0,695.4 L1183.0,697.1 L1185.0,698.9 L1187.0,700.6 L1189.0,702.3 L1191.0,704.0 L1193.0,705.7 L1195.0,707.4 L1197.0,709.2 L1199.0,710.9 L1201.0,712.6 L1203.0,714.3 L1205.0,716.0 L1207.0,717.7 L1209.0,719.4 L1211.0,721.2 L1213.0,722.9 L1215.0,724.6 L1217.0,726.3 L1219.0,728.0 L1221.0,729.7 L1223.0,731.4 L1225.0,733.1 L1227.0,734.8 L1229.0,736.5 L1231.0,738.3 L1233.0,740.0 L1235.0,741.7 L1237.0,743.4 L1239.0,745.1" stroke="#d8c86c" stroke-width="5.2" stroke-linecap="round" stroke-dasharray="1.2 13.7"/>
<path d="M240.0,278.0 L242.0,277.4 L244.0,276.9 L246.0,276.3 L248.0,275.7 L250.0,275.2 L252.0,274.6 L254.0,274.1 L256.0,273.6 L258.0,273.1 L260.0,272.5 L262.0,272.0 L264.0,271.5 L266.0,271.0 L268.0,270.5 L270.0,270.1 L272.0,269.6 L274.0,269.1 L276.0,268.6 L278.0,268.2 L280.0,267.7 L282.0,267.3 L284.0,266.8 L286.0,266.4 L288.0,266.0 L290.0,265.6 L292.0,265.1 L294.0,264.7 L296.0,264.3 L298.0,263.9 L300.0,263.6 L302.0,263.2 L304.0,262.8 L306.0,262.4 L308.0,262.1 L310.0,261.7 L312.0,261.4 L314.0,261.0 L316.0,260.7 L318.0,260.3 L320.0,260.0 L322.0,259.7 L324.0,259.4 L326.0,259.1 L328.0,258.8 L330.0,258.5 L332.0,258.2 L334.0,257.9 L336.0,257.7 L338.0,257.4 L340.0,257.1 L342.0,256.9 L344.0,256.6 L346.0,256.4 L348.0,256.2 L350.0,255.9 L352.0,255.7 L354.0,255.5 L356.0,255.3 L358.0,255.1 L360.0,254.9 L362.0,254.7 L364.0,254.5 L366.0,254.3 L368.0,254.2 L370.0,254.0 L372.0,253.8 L374.0,253.7 L376.0,253.6 L378.0,253.4 L380.0,253.3 L382.0,253.2 L384.0,253.0 L386.0,252.9 L388.0,252.8 L390.0,252.7 L392.0,252.6 L394.0,252.5 L396.0,252.5 L398.0,252.4 L400.0,252.3 L402.0,252.3 L404.0,252.2 L406.0,252.2 L408.0,252.1 L410.0,252.1 L412.0,252.1 L414.0,252.0 L416.0,252.0 L418.0,252.0 L420.0,252.0 L422.0,252.0 L424.0,252.0 L426.0,252.1 L428.0,252.1 L430.0,252.1 L432.0,252.2 L434.0,252.3 L436.0,252.4 L438.0,252.5 L440.0,252.6 L442.0,252.7 L444.0,252.8 L446.0,253.0 L448.0,253.1 L450.0,253.3 L452.0,253.5 L454.0,253.7 L456.0,253.8 L458.0,254.1 L460.0,254.3 L462.0,254.5 L464.0,254.7 L466.0,255.0 L468.0,255.2 L470.0,255.5 L472.0,255.8 L474.0,256.0 L476.0,256.3 L478.0,256.6 L480.0,256.9 L482.0,257.2 L484.0,257.6 L486.0,257.9 L488.0,258.2 L490.0,258.6 L492.0,258.9 L494.0,259.3 L496.0,259.7 L498.0,260.1 L500.0,260.5 L502.0,260.9 L504.0,261.3 L506.0,261.7 L508.0,262.1 L510.0,262.5 L512.0,263.0 L514.0,263.4 L516.0,263.8 L518.0,264.3 L520.0,264.8 L522.0,265.2 L524.0,265.7 L526.0,266.2 L528.0,266.7 L530.0,267.2 L532.0,267.7 L534.0,268.2 L536.0,268.7 L538.0,269.2 L540.0,269.8 L542.0,270.3 L544.0,270.9 L546.0,271.4 L548.0,272.0 L550.0,272.5 L552.0,273.1 L554.0,273.7 L556.0,274.2 L558.0,274.8 L560.0,275.4 L562.0,276.0 L564.0,276.6 L566.0,277.2 L568.0,277.8 L570.0,278.5 L572.0,279.1 L574.0,279.7 L576.0,280.3 L578.0,281.0 L580.0,281.6 L582.0,282.3 L584.0,282.9 L586.0,283.6 L588.0,284.2 L590.0,284.9 L592.0,285.6 L594.0,286.3 L596.0,286.9 L598.0,287.6 L600.0,288.3 L602.0,289.0 L604.0,289.7 L606.0,290.4 L608.0,291.1 L610.0,291.9 L612.0,292.6 L614.0,293.3 L616.0,294.0 L618.0,294.8 L620.0,295.5 L622.0,296.2 L624.0,297.0 L626.0,297.7 L628.0,298.5 L630.0,299.2 L632.0,300.0 L634.0,300.8 L636.0,301.5 L638.0,302.3 L640.0,303.1 L642.0,303.9 L644.0,304.6 L646.0,305.4 L648.0,306.2 L650.0,307.0 L652.0,307.8 L654.0,308.6 L656.0,309.4 L658.0,310.2 L660.0,311.1 L662.0,311.9 L664.0,312.7 L666.0,313.5 L668.0,314.3 L670.0,315.2 L672.0,316.0 L674.0,316.9 L676.0,317.7 L678.0,318.5 L680.0,319.4 L682.0,320.2 L684.0,321.1 L686.0,322.0 L688.0,322.8 L690.0,323.7 L692.0,324.5 L694.0,325.4 L696.0,326.3 L698.0,327.2 L700.0,328.1 L702.0,328.9 L704.0,329.8 L706.0,330.7 L708.0,331.6 L710.0,332.5 L712.0,333.4 L714.0,334.3 L716.0,335.2 L718.0,336.1 L720.0,337.0 L722.0,338.0 L724.0,338.9 L726.0,339.8 L728.0,340.7 L730.0,341.7 L732.0,342.6 L734.0,343.5 L736.0,344.5 L738.0,345.4 L740.0,346.4 L742.0,347.3 L744.0,348.2 L746.0,349.2 L748.0,350.2 L750.0,351.1 L752.0,352.1 L754.0,353.0 L756.0,354.0 L758.0,355.0 L760.0,356.0 L762.0,356.9 L764.0,357.9 L766.0,358.9 L768.0,359.9 L770.0,360.9 L772.0,361.9 L774.0,362.9 L776.0,363.9 L778.0,364.9 L780.0,365.9 L782.0,366.9 L784.0,367.9 L786.0,368.9 L788.0,369.9 L790.0,370.9 L792.0,371.9 L794.0,373.0 L796.0,374.0 L798.0,375.0 L800.0,376.1 L802.0,377.1 L804.0,378.1 L806.0,379.2 L808.0,380.2 L810.0,381.3 L812.0,382.3 L814.0,383.4 L816.0,384.4 L818.0,385.5 L820.0,386.5 L822.0,387.6 L824.0,388.7 L826.0,389.7 L828.0,390.8 L830.0,391.9 L832.0,393.0 L834.0,394.1 L836.0,395.1 L838.0,396.2 L840.0,397.3 L842.0,398.4 L844.0,399.5 L846.0,400.6 L848.0,401.7 L850.0,402.8 L852.0,403.9 L854.0,405.1 L856.0,406.2 L858.0,407.3 L860.0,408.4 L862.0,409.5 L864.0,410.7 L866.0,411.8 L868.0,412.9 L870.0,414.1 L872.0,415.2 L874.0,416.4 L876.0,417.5 L878.0,418.7 L880.0,419.8 L882.0,421.0 L884.0,422.1 L886.0,423.3 L888.0,424.5 L890.0,425.6 L892.0,426.8 L894.0,428.0 L896.0,429.1 L898.0,430.3 L900.0,431.5 L902.0,432.7 L904.0,433.9 L906.0,435.1 L908.0,436.3 L910.0,437.5 L912.0,438.7 L914.0,439.9 L916.0,441.1 L918.0,442.3 L920.0,443.5 L922.0,444.7 L924.0,446.0 L926.0,447.2 L928.0,448.4 L930.0,449.6 L932.0,450.9 L934.0,452.1 L936.0,453.3 L938.0,454.6 L940.0,455.8 L942.0,457.1 L944.0,458.3 L946.0,459.6 L948.0,460.9 L950.0,462.1 L952.0,463.4 L954.0,464.6 L956.0,465.9 L958.0,467.2 L960.0,468.5 L962.0,469.7 L964.0,471.0 L966.0,472.3 L968.0,473.6 L970.0,474.9 L972.0,476.2 L974.0,477.5 L976.0,478.8 L978.0,480.1 L980.0,481.4 L982.0,482.7 L984.0,484.0 L986.0,485.3 L988.0,486.7 L990.0,488.0 L992.0,489.3 L994.0,490.6 L996.0,492.0 L998.0,493.3 L1000.0,494.6 L1002.0,496.0 L1004.0,497.3 L1006.0,498.7 L1008.0,500.0 L1010.0,501.4 L1012.0,502.7 L1014.0,504.1 L1016.0,505.4 L1018.0,506.8 L1020.0,508.2 L1022.0,509.5 L1024.0,510.9 L1026.0,512.3 L1028.0,513.7 L1030.0,515.1 L1032.0,516.4 L1034.0,517.8 L1036.0,519.2 L1038.0,520.6 L1040.0,522.0 L1042.0,523.4 L1044.0,524.8 L1046.0,526.2 L1048.0,527.6 L1050.0,529.0 L1052.0,530.4 L1054.0,531.8 L1056.0,533.2 L1058.0,534.6 L1060.0,536.1 L1062.0,537.5 L1064.0,538.9 L1066.0,540.3 L1068.0,541.8 L1070.0,543.2 L1072.0,544.6 L1074.0,546.1 L1076.0,547.5 L1078.0,548.9 L1080.0,550.4 L1082.0,551.8 L1084.0,553.3 L1086.0,554.7 L1088.0,556.2 L1090.0,557.6 L1092.0,559.1 L1094.0,560.5 L1096.0,562.0 L1098.0,563.4 L1100.0,564.9 L1102.0,566.4 L1104.0,567.8 L1106.0,569.3 L1108.0,570.8 L1110.0,572.2 L1112.0,573.7 L1114.0,575.2 L1116.0,576.7 L1118.0,578.1 L1120.0,579.6 L1122.0,581.1 L1124.0,582.6 L1126.0,584.0 L1128.0,585.5 L1130.0,587.0 L1132.0,588.5 L1134.0,590.0 L1136.0,591.5 L1138.0,593.0 L1140.0,594.4 L1142.0,595.9 L1144.0,597.4 L1146.0,598.9 L1148.0,600.4 L1150.0,601.9 L1152.0,603.4 L1154.0,604.9 L1156.0,606.4 L1158.0,607.9 L1160.0,609.4 L1162.0,610.8 L1164.0,612.3 L1166.0,613.8 L1168.0,615.3 L1170.0,616.8 L1172.0,618.3 L1174.0,619.8 L1176.0,621.3 L1178.0,622.8 L1180.0,624.3 L1182.0,625.8 L1184.0,627.3 L1186.0,628.8 L1188.0,630.3 L1190.0,631.8 L1192.0,633.2 L1194.0,634.7 L1196.0,636.2 L1198.0,637.7 L1200.0,639.2 L1202.0,640.7 L1204.0,642.2 L1206.0,643.6 L1208.0,645.1 L1210.0,646.6 L1212.0,648.1 L1214.0,649.6 L1216.0,651.0 L1218.0,652.5 L1220.0,654.0 L1222.0,655.4 L1224.0,656.9 L1226.0,658.4 L1228.0,659.8 L1230.0,661.3 L1232.0,662.8 L1234.0,664.2 L1236.0,665.7 L1238.0,667.1 L1240.0,668.6" stroke="#704f8a" stroke-width="4.3"/>
<path d="M243.0,271.5 L245.0,271.1 L247.0,270.6 L249.0,270.2 L251.0,269.8 L253.0,269.4 L255.0,268.9 L257.0,268.5 L259.0,268.1 L261.0,267.7 L263.0,267.3 L265.0,267.0 L267.0,266.6 L269.0,266.2 L271.0,265.8 L273.0,265.5 L275.0,265.1 L277.0,264.7 L279.0,264.4 L281.0,264.0 L283.0,263.7 L285.0,263.3 L287.0,263.0 L289.0,262.7 L291.0,262.4 L293.0,262.0 L295.0,261.7 L297.0,261.4 L299.0,261.1 L301.0,260.8 L303.0,260.5 L305.0,260.2 L307.0,259.9 L309.0,259.7 L311.0,259.4 L313.0,259.1 L315.0,258.9 L317.0,258.6 L319.0,258.3 L321.0,258.1 L323.0,257.9 L325.0,257.6 L327.0,257.4 L329.0,257.2 L331.0,256.9 L333.0,256.7 L335.0,256.5 L337.0,256.3 L339.0,256.1 L341.0,255.9 L343.0,255.7 L345.0,255.5 L347.0,255.3 L349.0,255.1 L351.0,255.0 L353.0,254.8 L355.0,254.6 L357.0,254.5 L359.0,254.3 L361.0,254.2 L363.0,254.0 L365.0,253.9 L367.0,253.7 L369.0,253.6 L371.0,253.5 L373.0,253.4 L375.0,253.3 L377.0,253.2 L379.0,253.0 L381.0,252.9 L383.0,252.9 L385.0,252.8 L387.0,252.7 L389.0,252.6 L391.0,252.5 L393.0,252.5 L395.0,252.4 L397.0,252.3 L399.0,252.3 L401.0,252.2 L403.0,252.2 L405.0,252.1 L407.0,252.1 L409.0,252.1 L411.0,252.1 L413.0,252.0 L415.0,252.0 L417.0,252.0 L419.0,252.0 L421.0,252.0 L423.0,252.0 L425.0,252.0 L427.0,252.1 L429.0,252.1 L431.0,252.1 L433.0,252.2 L435.0,252.2 L437.0,252.3 L439.0,252.4 L441.0,252.5 L443.0,252.6 L445.0,252.7 L447.0,252.8 L449.0,252.9 L451.0,253.0 L453.0,253.1 L455.0,253.3 L457.0,253.4 L459.0,253.6 L461.0,253.7 L463.0,253.9 L465.0,254.1 L467.0,254.2 L469.0,254.4 L471.0,254.6 L473.0,254.8 L475.0,255.0 L477.0,255.2 L479.0,255.5 L481.0,255.7 L483.0,255.9 L485.0,256.2 L487.0,256.4 L489.0,256.7 L491.0,256.9 L493.0,257.2 L495.0,257.5 L497.0,257.7 L499.0,258.0 L501.0,258.3 L503.0,258.6 L505.0,258.9 L507.0,259.2 L509.0,259.5 L511.0,259.9 L513.0,260.2 L515.0,260.5 L517.0,260.9 L519.0,261.2 L521.0,261.6 L523.0,261.9 L525.0,262.3 L527.0,262.6 L529.0,263.0 L531.0,263.4 L533.0,263.8 L535.0,264.1 L537.0,264.5 L539.0,264.9 L541.0,265.3 L543.0,265.7 L545.0,266.2 L547.0,266.6 L549.0,267.0 L551.0,267.4 L553.0,267.9 L555.0,268.3 L557.0,268.7 L559.0,269.2 L561.0,269.6 L563.0,270.1 L565.0,270.5 L567.0,271.0 L569.0,271.5 L571.0,271.9 L573.0,272.4 L575.0,272.9 L577.0,273.4 L579.0,273.9 L581.0,274.4 L583.0,274.9 L585.0,275.4 L587.0,275.9 L589.0,276.4 L591.0,276.9 L593.0,277.4 L595.0,278.0 L597.0,278.5 L599.0,279.0 L601.0,279.6 L603.0,280.1 L605.0,280.7 L607.0,281.2 L609.0,281.8 L611.0,282.3 L613.0,282.9 L615.0,283.4 L617.0,284.0 L619.0,284.6 L621.0,285.1 L623.0,285.7 L625.0,286.3 L627.0,286.9 L629.0,287.5 L631.0,288.1 L633.0,288.7 L635.0,289.3 L637.0,289.9 L639.0,290.5 L641.0,291.1 L643.0,291.7 L645.0,292.3 L647.0,293.0 L649.0,293.6 L651.0,294.2 L653.0,294.8 L655.0,295.5 L657.0,296.1 L659.0,296.7 L661.0,297.4 L663.0,298.0 L665.0,298.7 L667.0,299.3 L669.0,300.0 L671.0,300.7 L673.0,301.3 L675.0,302.0 L677.0,302.7 L679.0,303.3 L681.0,304.0 L683.0,304.7 L685.0,305.4 L687.0,306.1 L689.0,306.8 L691.0,307.4 L693.0,308.1 L695.0,308.8 L697.0,309.5 L699.0,310.2 L701.0,310.9 L703.0,311.7 L705.0,312.4 L707.0,313.1 L709.0,313.8 L711.0,314.5 L713.0,315.2 L715.0,316.0 L717.0,316.7 L719.0,317.4 L721.0,318.2 L723.0,318.9 L725.0,319.6 L727.0,320.4 L729.0,321.1 L731.0,321.9 L733.0,322.6 L735.0,323.4 L737.0,324.2 L739.0,324.9 L741.0,325.7 L743.0,326.4 L745.0,327.2 L747.0,328.0 L749.0,328.8 L751.0,329.5 L753.0,330.3 L755.0,331.1 L757.0,331.9 L759.0,332.7 L761.0,333.4 L763.0,334.2 L765.0,335.0 L767.0,335.8 L769.0,336.6 L771.0,337.4 L773.0,338.2 L775.0,339.1 L777.0,339.9 L779.0,340.7 L781.0,341.5 L783.0,342.3 L785.0,343.1 L787.0,344.0 L789.0,344.8 L791.0,345.6 L793.0,346.4 L795.0,347.3 L797.0,348.1 L799.0,348.9 L801.0,349.8 L803.0,350.6 L805.0,351.5 L807.0,352.3 L809.0,353.2 L811.0,354.0 L813.0,354.9 L815.0,355.7 L817.0,356.6 L819.0,357.5 L821.0,358.3 L823.0,359.2 L825.0,360.1 L827.0,360.9 L829.0,361.8 L831.0,362.7 L833.0,363.6 L835.0,364.5 L837.0,365.4 L839.0,366.2 L841.0,367.1 L843.0,368.0 L845.0,368.9 L847.0,369.8 L849.0,370.7 L851.0,371.6 L853.0,372.5 L855.0,373.4 L857.0,374.3 L859.0,375.3 L861.0,376.2 L863.0,377.1 L865.0,378.0 L867.0,378.9 L869.0,379.9 L871.0,380.8 L873.0,381.7 L875.0,382.6 L877.0,383.6 L879.0,384.5 L881.0,385.4 L883.0,386.4 L885.0,387.3 L887.0,388.3 L889.0,389.2 L891.0,390.2 L893.0,391.1 L895.0,392.1 L897.0,393.0 L899.0,394.0 L901.0,395.0 L903.0,395.9 L905.0,396.9 L907.0,397.9 L909.0,398.8 L911.0,399.8 L913.0,400.8 L915.0,401.8 L917.0,402.7 L919.0,403.7 L921.0,404.7 L923.0,405.7 L925.0,406.7 L927.0,407.7 L929.0,408.7 L931.0,409.7 L933.0,410.7 L935.0,411.7 L937.0,412.7 L939.0,413.7 L941.0,414.7 L943.0,415.7 L945.0,416.7 L947.0,417.7 L949.0,418.7 L951.0,419.8 L953.0,420.8 L955.0,421.8 L957.0,422.8 L959.0,423.9 L961.0,424.9 L963.0,425.9 L965.0,427.0 L967.0,428.0 L969.0,429.0 L971.0,430.1 L973.0,431.1 L975.0,432.2 L977.0,433.2 L979.0,434.3 L981.0,435.3 L983.0,436.4 L985.0,437.4 L987.0,438.5 L989.0,439.5 L991.0,440.6 L993.0,441.7 L995.0,442.7 L997.0,443.8 L999.0,444.9 L1001.0,445.9 L1003.0,447.0 L1005.0,448.1 L1007.0,449.2 L1009.0,450.2 L1011.0,451.3 L1013.0,452.4 L1015.0,453.5 L1017.0,454.6 L1019.0,455.7 L1021.0,456.8 L1023.0,457.9 L1025.0,458.9 L1027.0,460.0 L1029.0,461.1 L1031.0,462.2 L1033.0,463.3 L1035.0,464.4 L1037.0,465.6 L1039.0,466.7 L1041.0,467.8 L1043.0,468.9 L1045.0,470.0 L1047.0,471.1 L1049.0,472.2 L1051.0,473.3 L1053.0,474.5 L1055.0,475.6 L1057.0,476.7 L1059.0,477.8 L1061.0,479.0 L1063.0,480.1 L1065.0,481.2 L1067.0,482.3 L1069.0,483.5 L1071.0,484.6 L1073.0,485.7 L1075.0,486.9 L1077.0,488.0 L1079.0,489.1 L1081.0,490.3 L1083.0,491.4 L1085.0,492.6 L1087.0,493.7 L1089.0,494.9 L1091.0,496.0 L1093.0,497.2 L1095.0,498.3 L1097.0,499.5 L1099.0,500.6 L1101.0,501.8 L1103.0,502.9 L1105.0,504.1 L1107.0,505.2 L1109.0,506.4 L1111.0,507.5 L1113.0,508.7 L1115.0,509.9 L1117.0,511.0 L1119.0,512.2 L1121.0,513.3 L1123.0,514.5 L1125.0,515.7 L1127.0,516.8 L1129.0,518.0 L1131.0,519.2 L1133.0,520.3 L1135.0,521.5 L1137.0,522.7 L1139.0,523.8 L1141.0,525.0 L1143.0,526.2 L1145.0,527.3 L1147.0,528.5 L1149.0,529.7 L1151.0,530.8 L1153.0,532.0 L1155.0,533.2 L1157.0,534.4 L1159.0,535.5 L1161.0,536.7 L1163.0,537.9 L1165.0,539.0 L1167.0,540.2 L1169.0,541.4 L1171.0,542.6 L1173.0,543.7 L1175.0,544.9 L1177.0,546.1 L1179.0,547.3 L1181.0,548.4 L1183.0,549.6 L1185.0,550.8 L1187.0,551.9 L1189.0,553.1 L1191.0,554.3 L1193.0,555.4 L1195.0,556.6 L1197.0,557.8 L1199.0,559.0 L1201.0,560.1 L1203.0,561.3 L1205.0,562.4 L1207.0,563.6 L1209.0,564.8 L1211.0,565.9 L1213.0,567.1 L1215.0,568.3 L1217.0,569.4 L1219.0,570.6 L1221.0,571.7 L1223.0,572.9 L1225.0,574.0 L1227.0,575.2 L1229.0,576.4 L1231.0,577.5 L1233.0,578.7 L1235.0,579.8 L1237.0,580.9 L1238.0,581.5" stroke="#0c1862" stroke-width="4.6" stroke-dasharray="8 7.4"/>
</g>
<g stroke="#1a1a1a" stroke-width="3" fill="none">
<line x1="210" y1="252.5" x2="1272.5" y2="252.5" stroke-dasharray="16 15" stroke-dashoffset="8"/>
<line x1="421" y1="25.4" x2="421" y2="1087" stroke-dasharray="16 15"/>
</g>
<rect x="508.7" y="1083.8" width="22.2" height="3.8" fill="#f6e6c8" stroke="#c9b896" stroke-width="1.6"/>
<rect x="530.9" y="1085.5" width="22.1" height="2.1" fill="#f6e6c8" stroke="#c9b896" stroke-width="1.6"/>
<rect x="553.0" y="1066.7" width="22.1" height="20.9" fill="#fbe2ba"/>
<path d="M553.0,1087.6 V1066.7 H575.1 V1087.6" fill="none" stroke="#54432a" stroke-width="2"/>
<line x1="552.0" y1="1066.7" x2="576.1" y2="1066.7" stroke="#2e2212" stroke-width="2.6"/>
<rect x="575.1" y="1059.0" width="22.1" height="28.6" fill="#fbe2ba"/>
<path d="M575.1,1087.6 V1059.0 H597.3 V1087.6" fill="none" stroke="#54432a" stroke-width="2"/>
<line x1="574.1" y1="1059.0" x2="598.3" y2="1059.0" stroke="#2e2212" stroke-width="2.6"/>
<rect x="597.3" y="1081.0" width="22.2" height="6.6" fill="#f6e6c8" stroke="#c9b896" stroke-width="1.6"/>
<rect x="619.5" y="1028.7" width="22.1" height="58.9" fill="#fbe2ba"/>
<path d="M619.5,1087.6 V1028.7 H641.6 V1087.6" fill="none" stroke="#54432a" stroke-width="2"/>
<line x1="618.5" y1="1028.7" x2="642.6" y2="1028.7" stroke="#2e2212" stroke-width="2.6"/>
<rect x="641.6" y="1081.7" width="22.1" height="5.9" fill="#f6e6c8" stroke="#c9b896" stroke-width="1.6"/>
<rect x="663.8" y="1085.0" width="22.1" height="2.6" fill="#f6e6c8" stroke="#c9b896" stroke-width="1.6"/>
<rect x="685.9" y="1081.0" width="22.1" height="6.6" fill="#f6e6c8" stroke="#c9b896" stroke-width="1.6"/>
<rect x="708.0" y="1053.5" width="22.2" height="34.1" fill="#fbe2ba"/>
<path d="M708.0,1087.6 V1053.5 H730.2 V1087.6" fill="none" stroke="#54432a" stroke-width="2"/>
<line x1="707.0" y1="1053.5" x2="731.2" y2="1053.5" stroke="#2e2212" stroke-width="2.6"/>
<rect x="730.2" y="1068.3" width="22.1" height="19.3" fill="#fbe2ba"/>
<path d="M730.2,1087.6 V1068.3 H752.4 V1087.6" fill="none" stroke="#54432a" stroke-width="2"/>
<line x1="729.2" y1="1068.3" x2="753.4" y2="1068.3" stroke="#2e2212" stroke-width="2.6"/>
<rect x="752.4" y="1064.2" width="22.1" height="23.4" fill="#fbe2ba"/>
<path d="M752.4,1087.6 V1064.2 H774.5 V1087.6" fill="none" stroke="#54432a" stroke-width="2"/>
<line x1="751.4" y1="1064.2" x2="775.5" y2="1064.2" stroke="#2e2212" stroke-width="2.6"/>
<rect x="774.5" y="1081.7" width="22.1" height="5.9" fill="#f6e6c8" stroke="#c9b896" stroke-width="1.6"/>
<rect x="796.6" y="1076.7" width="22.1" height="10.9" fill="#fbe2ba"/>
<path d="M796.6,1087.6 V1076.7 H818.8 V1087.6" fill="none" stroke="#54432a" stroke-width="2"/>
<line x1="795.6" y1="1076.7" x2="819.8" y2="1076.7" stroke="#2e2212" stroke-width="2.6"/>
<rect x="818.8" y="1003.3" width="22.2" height="84.3" fill="#fbe2ba"/>
<path d="M818.8,1087.6 V1003.3 H841.0 V1087.6" fill="none" stroke="#54432a" stroke-width="2"/>
<line x1="817.8" y1="1003.3" x2="842.0" y2="1003.3" stroke="#2e2212" stroke-width="2.6"/>
<rect x="841.0" y="1070.8" width="22.1" height="16.8" fill="#fbe2ba"/>
<path d="M841.0,1087.6 V1070.8 H863.1 V1087.6" fill="none" stroke="#54432a" stroke-width="2"/>
<line x1="840.0" y1="1070.8" x2="864.1" y2="1070.8" stroke="#2e2212" stroke-width="2.6"/>
<rect x="863.1" y="1062.0" width="22.2" height="25.6" fill="#fbe2ba"/>
<path d="M863.1,1087.6 V1062.0 H885.2 V1087.6" fill="none" stroke="#54432a" stroke-width="2"/>
<line x1="862.1" y1="1062.0" x2="886.2" y2="1062.0" stroke="#2e2212" stroke-width="2.6"/>
<rect x="885.2" y="1039.2" width="22.1" height="48.4" fill="#fbe2ba"/>
<path d="M885.2,1087.6 V1039.2 H907.4 V1087.6" fill="none" stroke="#54432a" stroke-width="2"/>
<line x1="884.2" y1="1039.2" x2="908.4" y2="1039.2" stroke="#2e2212" stroke-width="2.6"/>
<rect x="907.4" y="1073.3" width="22.1" height="14.3" fill="#fbe2ba"/>
<path d="M907.4,1087.6 V1073.3 H929.5 V1087.6" fill="none" stroke="#54432a" stroke-width="2"/>
<line x1="906.4" y1="1073.3" x2="930.5" y2="1073.3" stroke="#2e2212" stroke-width="2.6"/>
<rect x="929.5" y="1071.5" width="22.2" height="16.1" fill="#fbe2ba"/>
<path d="M929.5,1087.6 V1071.5 H951.7 V1087.6" fill="none" stroke="#54432a" stroke-width="2"/>
<line x1="928.5" y1="1071.5" x2="952.7" y2="1071.5" stroke="#2e2212" stroke-width="2.6"/>
<rect x="951.7" y="1073.3" width="22.1" height="14.3" fill="#fbe2ba"/>
<path d="M951.7,1087.6 V1073.3 H973.8 V1087.6" fill="none" stroke="#54432a" stroke-width="2"/>
<line x1="950.7" y1="1073.3" x2="974.8" y2="1073.3" stroke="#2e2212" stroke-width="2.6"/>
<rect x="973.8" y="1059.7" width="22.2" height="27.9" fill="#fbe2ba"/>
<path d="M973.8,1087.6 V1059.7 H996.0 V1087.6" fill="none" stroke="#54432a" stroke-width="2"/>
<line x1="972.8" y1="1059.7" x2="997.0" y2="1059.7" stroke="#2e2212" stroke-width="2.6"/>
<rect x="996.0" y="1059.2" width="22.1" height="28.4" fill="#fbe2ba"/>
<path d="M996.0,1087.6 V1059.2 H1018.1 V1087.6" fill="none" stroke="#54432a" stroke-width="2"/>
<line x1="995.0" y1="1059.2" x2="1019.1" y2="1059.2" stroke="#2e2212" stroke-width="2.6"/>
<rect x="1018.1" y="1044.0" width="22.1" height="43.6" fill="#fbe2ba"/>
<path d="M1018.1,1087.6 V1044.0 H1040.3 V1087.6" fill="none" stroke="#54432a" stroke-width="2"/>
<line x1="1017.1" y1="1044.0" x2="1041.3" y2="1044.0" stroke="#2e2212" stroke-width="2.6"/>
<rect x="1040.3" y="1009.0" width="22.2" height="78.6" fill="#fbe2ba"/>
<path d="M1040.3,1087.6 V1009.0 H1062.5 V1087.6" fill="none" stroke="#54432a" stroke-width="2"/>
<line x1="1039.3" y1="1009.0" x2="1063.5" y2="1009.0" stroke="#2e2212" stroke-width="2.6"/>
<rect x="1062.5" y="922.3" width="22.1" height="165.3" fill="#fbe2ba"/>
<path d="M1062.5,1087.6 V922.3 H1084.6 V1087.6" fill="none" stroke="#54432a" stroke-width="2"/>
<line x1="1061.5" y1="922.3" x2="1085.6" y2="922.3" stroke="#2e2212" stroke-width="2.6"/>
<rect x="1084.6" y="1003.4" width="22.2" height="84.2" fill="#fbe2ba"/>
<path d="M1084.6,1087.6 V1003.4 H1106.8 V1087.6" fill="none" stroke="#54432a" stroke-width="2"/>
<line x1="1083.6" y1="1003.4" x2="1107.8" y2="1003.4" stroke="#2e2212" stroke-width="2.6"/>
<rect x="1106.8" y="883.8" width="22.2" height="203.8" fill="#fbe2ba"/>
<path d="M1106.8,1087.6 V883.8 H1128.9 V1087.6" fill="none" stroke="#54432a" stroke-width="2"/>
<line x1="1105.8" y1="883.8" x2="1129.9" y2="883.8" stroke="#2e2212" stroke-width="2.6"/>
<rect x="1128.9" y="855.6" width="22.1" height="232.0" fill="#fbe2ba"/>
<path d="M1128.9,1087.6 V855.6 H1151.0 V1087.6" fill="none" stroke="#54432a" stroke-width="2"/>
<line x1="1127.9" y1="855.6" x2="1152.0" y2="855.6" stroke="#2e2212" stroke-width="2.6"/>
<rect x="1151.0" y="883.8" width="22.1" height="203.8" fill="#fbe2ba"/>
<path d="M1151.0,1087.6 V883.8 H1173.2 V1087.6" fill="none" stroke="#54432a" stroke-width="2"/>
<line x1="1150.0" y1="883.8" x2="1174.2" y2="883.8" stroke="#2e2212" stroke-width="2.6"/>
<rect x="1173.2" y="946.7" width="22.2" height="140.9" fill="#fbe2ba"/>
<path d="M1173.2,1087.6 V946.7 H1195.3 V1087.6" fill="none" stroke="#54432a" stroke-width="2"/>
<line x1="1172.2" y1="946.7" x2="1196.3" y2="946.7" stroke="#2e2212" stroke-width="2.6"/>
<rect x="1195.3" y="1013.0" width="22.2" height="74.6" fill="#fbe2ba"/>
<path d="M1195.3,1087.6 V1013.0 H1217.5 V1087.6" fill="none" stroke="#54432a" stroke-width="2"/>
<line x1="1194.3" y1="1013.0" x2="1218.5" y2="1013.0" stroke="#2e2212" stroke-width="2.6"/>
<rect x="1217.5" y="1081.7" width="22.2" height="5.9" fill="#f6e6c8" stroke="#c9b896" stroke-width="1.6"/>
<g stroke="#1a1a1a" stroke-width="3.2" fill="none">
<line x1="204" y1="51.5" x2="204" y2="1051"/>
<line x1="184.5" y1="53" x2="204" y2="53"/>
<line x1="188.5" y1="252" x2="204" y2="252"/>
<line x1="188.5" y1="450.5" x2="204" y2="450.5"/>
<line x1="188.5" y1="651.7" x2="204" y2="651.7"/>
<line x1="188.5" y1="850.6" x2="204" y2="850.6"/>
<line x1="184.5" y1="1049.5" x2="204" y2="1049.5"/>
<line x1="241" y1="1087.6" x2="1240" y2="1087.6"/>
<line x1="242.9" y1="1087.6" x2="242.9" y2="1107.5"/>
<line x1="331.5" y1="1087.6" x2="331.5" y2="1103.5"/>
<line x1="442.2" y1="1087.6" x2="442.2" y2="1103.5"/>
<line x1="553.0" y1="1087.6" x2="553.0" y2="1103.5"/>
<line x1="663.8" y1="1087.6" x2="663.8" y2="1103.5"/>
<line x1="774.5" y1="1087.6" x2="774.5" y2="1103.5"/>
<line x1="885.2" y1="1087.6" x2="885.2" y2="1103.5"/>
<line x1="996.0" y1="1087.6" x2="996.0" y2="1103.5"/>
<line x1="1106.8" y1="1087.6" x2="1106.8" y2="1103.5"/>
<line x1="1217.5" y1="1087.6" x2="1217.5" y2="1103.5"/>
<line x1="1238.4" y1="1087.6" x2="1238.4" y2="1107.5"/>
</g>
<g class="ser">
<text font-size="54.5" transform="matrix(0.8257 0 0 1 147.97 72.00)">2</text>
<text font-size="54.5" transform="matrix(0.8376 0 0 1 148.29 272.50)">0</text>
<rect x="135.6" y="455.1" width="13.20" height="2.50" fill="#1a1a1a"/>
<text font-size="54.5" transform="matrix(0.8578 0 0 1 150.90 470.00)">2</text>
<rect x="135.6" y="652.6" width="13.20" height="2.50" fill="#1a1a1a"/>
<text font-size="54.5" transform="matrix(0.7103 0 0 1 152.93 668.00)">4</text>
<rect x="135.6" y="854.4" width="13.20" height="2.50" fill="#1a1a1a"/>
<text font-size="54.5" transform="matrix(0.7597 0 0 1 152.24 869.20)">6</text>
<rect x="135.3" y="1051.8" width="13.20" height="2.50" fill="#1a1a1a"/>
<text font-size="54.5" transform="matrix(0.8117 0 0 1 152.34 1067.10)">8</text>
<rect x="226.7" y="1144.2" width="11.60" height="2.80" fill="#1a1a1a"/>
<text class="xl" font-size="51" transform="matrix(0.6119 0 0 1 239.27 1157.90)">1</text>
<text class="xl" font-size="51" transform="matrix(0.7168 0 0 1 253.27 1157.90)">4</text>
<rect x="312" y="1144.2" width="12.00" height="2.80" fill="#1a1a1a"/>
<text class="xl" font-size="51" transform="matrix(0.6341 0 0 1 325.17 1157.90)">1</text>
<text class="xl" font-size="51" transform="matrix(0.8489 0 0 1 339.38 1157.40)">0</text>
<rect x="429.4" y="1144.4" width="12.30" height="2.80" fill="#1a1a1a"/>
<text class="xl" font-size="51" transform="matrix(0.8671 0 0 1 440.26 1157.40)">5</text>
<text class="xl" font-size="51" transform="matrix(0.8581 0 0 1 537.86 1157.40)">0</text>
<text class="xl" font-size="51" transform="matrix(0.8379 0 0 1 653.14 1157.40)">5</text>
<text class="xl" font-size="51" transform="matrix(0.6453 0 0 1 757.72 1157.90)">1</text>
<text class="xl" font-size="51" transform="matrix(0.8443 0 0 1 772.29 1157.40)">0</text>
<text class="xl" font-size="51" transform="matrix(0.5896 0 0 1 871.77 1157.90)">1</text>
<text class="xl" font-size="51" transform="matrix(0.8135 0 0 1 883.71 1157.40)">5</text>
<text class="xl" font-size="51" transform="matrix(0.8431 0 0 1 975.86 1157.90)">2</text>
<text class="xl" font-size="51" transform="matrix(0.8212 0 0 1 995.63 1157.40)">0</text>
<text class="xl" font-size="51" transform="matrix(0.8578 0 0 1 1089.93 1157.90)">2</text>
<text class="xl" font-size="51" transform="matrix(0.7941 0 0 1 1108.27 1157.40)">5</text>
<text class="xl" font-size="51" transform="matrix(0.7701 0 0 1 1197.53 1157.40)">3</text>
<text class="xl" font-size="51" transform="matrix(0.8351 0 0 1 1215.90 1157.40)">0</text>
</g>
<text class="sans" x="769.5" y="1221" text-anchor="middle" font-size="52.5" letter-spacing="0.45">Temperature</text>
<text class="sans" x="0" y="0" text-anchor="middle" font-size="53.6" transform="translate(89.5 594) rotate(-90)">Cognitive performance</text>
</g>
</svg>
</body></html>
